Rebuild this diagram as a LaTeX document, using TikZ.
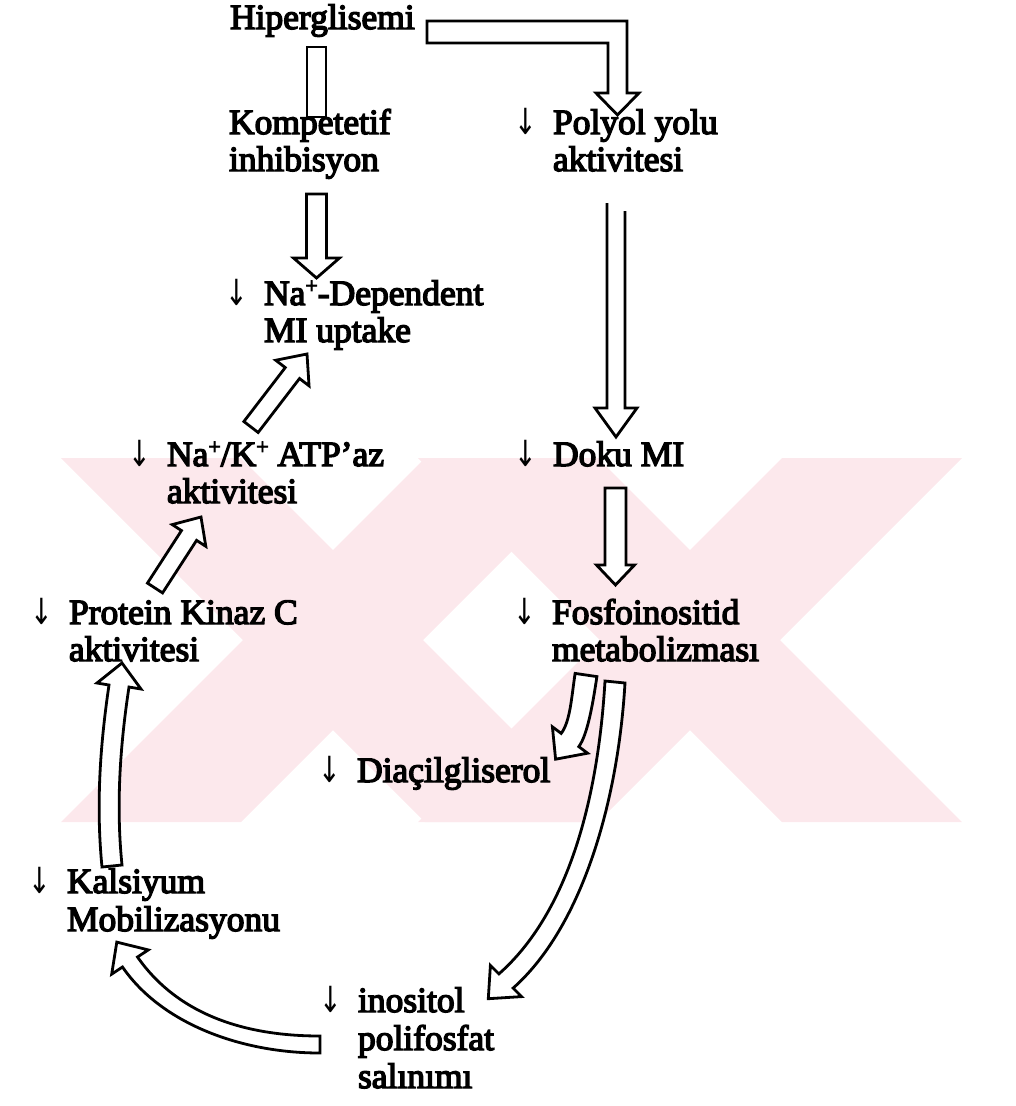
\documentclass[tikz,border=0pt]{standalone}
\usepackage{fontspec}
\usepackage{graphicx}
\setmainfont[FakeBold=4]{Liberation Serif}
\newfontfamily\arrowfont{DejaVu Sans}
\usetikzlibrary{calc}
\definecolor{wm}{RGB}{252,232,236}
\newcommand\dwn{\llap{\raisebox{0pt}{\arrowfont\fontsize{36}{36}\selectfont\scalebox{0.75}[1]{↓}}\hspace{16pt}}}
\newcommand\sups[1]{\raisebox{12pt}{\fontsize{22}{22}\selectfont #1}}
\newcommand\blkarrow[5]{%
  \draw[harrow]
   ($(#1)!#3!90:(#2)$) --
   ($($(#2)!#5!(#1)$)!#3!-90:(#1)$) --
   ($($(#2)!#5!(#1)$)!#4!-90:(#1)$) --
   (#2) --
   ($($(#2)!#5!(#1)$)!#4!90:(#1)$) --
   ($($(#2)!#5!(#1)$)!#3!90:(#1)$) --
   ($(#1)!#3!-90:(#2)$) -- cycle;}
\tikzset{
  lbl/.style={anchor=base west, inner sep=0pt, outer sep=0pt, font=\fontsize{35.5}{37}\selectfont},
  harrow/.style={draw=black, line width=2.8pt, fill=white, line join=miter, miter limit=4},
}
\begin{document}
\begin{tikzpicture}[x=1pt,y=-1pt]
\useasboundingbox (0,0) rectangle (1016,1106);
% watermark
\begin{scope}
\clip (0,458) rectangle (1016,822);
\foreach \cx/\cy in {333/640,690/635}{
  \fill[wm] ({\cx-272},458) -- ({\cx-92},458) -- ({\cx+272},822) -- ({\cx+92},822) -- cycle;
  \fill[wm] ({\cx+92},458) -- ({\cx+272},458) -- ({\cx-92},822) -- ({\cx-272},822) -- cycle;
}
\end{scope}
% labels
\node[lbl] (hip) at (230,29) {Hiperglisemi};
\node[lbl] (komp) at (229,134) {Kompetetif};
\node[lbl] (komp2) at (229,171) {inhibisyon};
\node[lbl] (poly) at (553,134) {\dwn Polyol yolu};
\node[lbl] (poly2) at (553,171) {aktivitesi};
\node[lbl] (nadep) at (264,305) {\dwn Na\sups{+}-Dependent};
\node[lbl] (nadep2) at (264,342) {MI uptake};
\node[lbl] (nak) at (167,466) {\dwn Na\sups{+}/K\sups{+} ATP’az};
\node[lbl] (nak2) at (167,503) {aktivitesi};
\node[lbl] (doku) at (553,466) {\dwn Doku MI};
\node[lbl] (pkc) at (69,624) {\dwn Protein Kinaz C};
\node[lbl] (pkc2) at (69,661) {aktivitesi};
\node[lbl] (fos) at (552,624) {\dwn Fosfoinositid};
\node[lbl] (fos2) at (552,661) {metabolizması};
\node[lbl] (dag) at (357,782) {\dwn Diaçilgliserol};
\node[lbl] (kal) at (67,893) {\dwn Kalsiyum};
\node[lbl] (kal2) at (67,931) {Mobilizasyonu};
\node[lbl] (ino) at (358,1012) {\dwn inositol};
\node[lbl] (ino2) at (358,1050) {polifosfat};
\node[lbl] (ino3) at (358,1088) {salınımı};
% connector end points
\coordinate (hipS) at (307,47);
\coordinate (kompN) at (326,117);
\coordinate (kompS) at (316.5,194);
\coordinate (nadepN) at (316.5,278);
\coordinate (nakN) at (251,427);
\coordinate (nadepS) at (307,354);
\coordinate (pkcN) at (155,588);
\coordinate (nakS) at (201,517);
\coordinate (dokuS) at (615.5,488);
\coordinate (fosN) at (615.5,585);
\coordinate (polyL) at (607,203);
\coordinate (polyR) at (625,211);
\coordinate (hipE) at (427,21);
% straight arrows
\draw[harrow] (hipS) rectangle (kompN);
\blkarrow{kompS}{nadepN}{10pt}{23pt}{20pt}
\blkarrow{nakN}{nadepS}{9pt}{21pt}{24pt}
\blkarrow{pkcN}{nakS}{9pt}{20pt}{22pt}
\blkarrow{dokuS}{fosN}{10.5pt}{19pt}{20pt}
% Hiperglisemi -> Polyol (elbow)
\draw[harrow] (hipE) -- (627,21) -- (627,93) -- (639,93) -- (617.5,115) -- (596,93) -- (608,93) -- (608,43) -- (427,43) -- cycle;
% Polyol -> Doku MI (open tail)
\draw[harrow] (polyL) -- (607,408) -- (595,408) -- (616,437) -- (637,408) -- (625,408) -- (polyR);
% Kalsiyum -> Protein Kinaz C
\draw[harrow] (102,867) .. controls (96,806) and (100,746) .. (109,685) -- (97,683) -- (122,663) -- (141,689) -- (129,687) .. controls (120,746) and (116,806) .. (122,865) -- cycle;
% inositol -> Kalsiyum
\draw[harrow] (320,1053) .. controls (240,1053) and (161,1023) .. (122.5,967) -- (111.7,974.1) -- (116.8,942.1) -- (148.3,949.9) -- (137.5,957) .. controls (176,1012) and (240,1036) .. (320,1036) -- cycle;
% Fosfoinositid -> Diacilgliserol
\draw[harrow] (575.1,673.4) .. controls (571.4,698.1) and (570.2,721.4) .. (561.2,733.4) -- (552.4,726.8) -- (555.6,759.2) -- (587.6,753.2) -- (578.8,746.6) .. controls (587.8,734.6) and (593.2,701.3) .. (596.9,676.6) -- cycle;
% Fosfoinositid -> inositol
\draw[harrow] (605,681) .. controls (598,800) and (568,913) .. (498.9,973.9) -- (490.4,965.4) -- (488.3,998.7) -- (521.6,996.6) -- (513.1,988.1) .. controls (582,927) and (618,802) .. (625,683) -- cycle;
\end{tikzpicture}
\end{document}
